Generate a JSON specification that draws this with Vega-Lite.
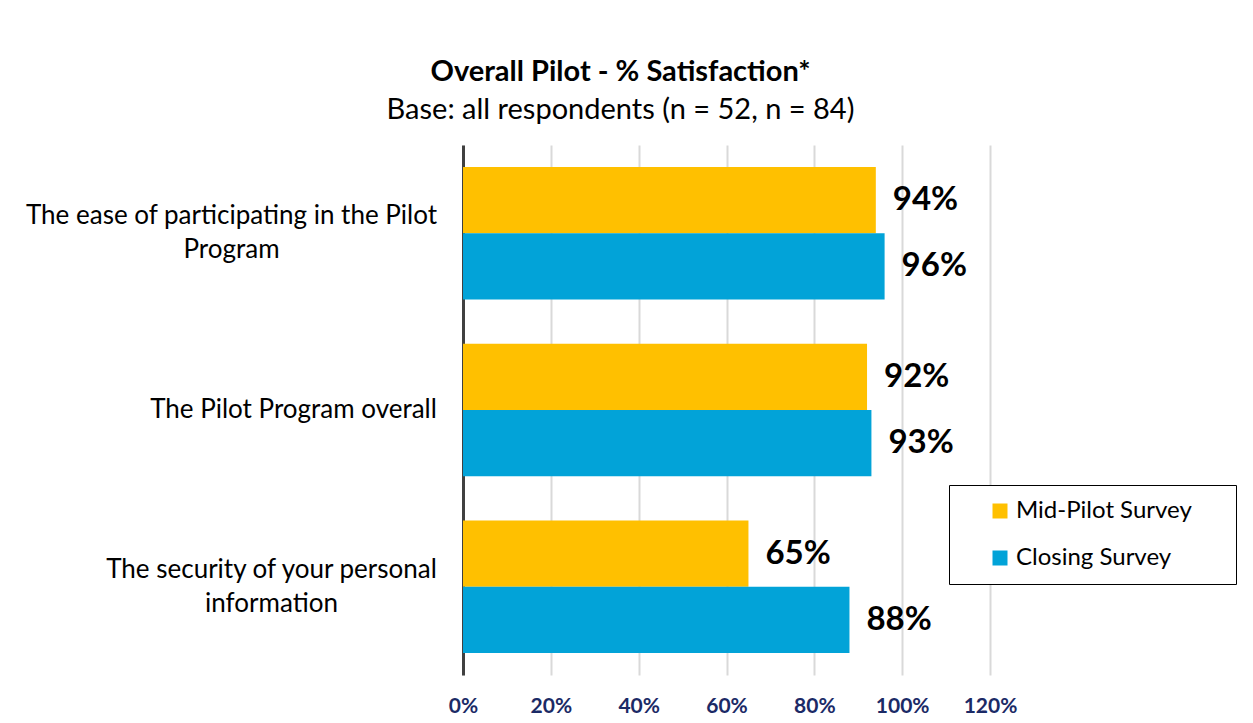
{
  "$schema": "https://vega.github.io/schema/vega-lite/v6.json",
  "autosize": "none",
  "width": 527,
  "height": 530,
  "padding": {"left": 463, "top": 145, "right": 263, "bottom": 48},
  "background": "white",
  "title": {
    "text": "Overall Pilot - % Satisfaction*",
    "subtitle": "Base: all respondents (n = 52, n = 84)",
    "anchor": "middle",
    "frame": "group",
    "dx": -106,
    "font": "Lato",
    "fontSize": 29,
    "fontWeight": "bold",
    "color": "#000000",
    "subtitleFont": "Lato",
    "subtitleFontSize": 29,
    "subtitleColor": "#000000",
    "subtitlePadding": 9,
    "offset": 20
  },
  "data": {
    "values": [
      {"item": "The ease of participating in the Pilot Program", "series": "Mid-Pilot Survey", "pct": 0.94},
      {"item": "The ease of participating in the Pilot Program", "series": "Closing Survey", "pct": 0.96},
      {"item": "The Pilot Program overall", "series": "Mid-Pilot Survey", "pct": 0.92},
      {"item": "The Pilot Program overall", "series": "Closing Survey", "pct": 0.93},
      {"item": "The security of your personal information", "series": "Mid-Pilot Survey", "pct": 0.65},
      {"item": "The security of your personal information", "series": "Closing Survey", "pct": 0.88}
    ]
  },
  "encoding": {
    "y": {
      "field": "item",
      "type": "nominal",
      "sort": null,
      "scale": {"paddingInner": 0.25, "paddingOuter": 0.125},
      "axis": {
        "title": null,
        "domain": true,
        "domainColor": "#404040",
        "domainWidth": 3,
        "ticks": false,
        "grid": false,
        "labelFont": "Lato",
        "labelFontSize": 26,
        "labelColor": "#000000",
        "labelAlign": "center",
        "labelBaseline": "middle",
        "labelLineHeight": 34,
        "labelLimit": 600,
        "labelOffset": {
          "condition": {"test": "datum.value == 'The Pilot Program overall'", "value": 0},
          "value": -17
        },
        "labelPadding": {
          "condition": [
            {"test": "datum.value == 'The ease of participating in the Pilot Program'", "value": 232},
            {"test": "datum.value == 'The Pilot Program overall'", "value": 170}
          ],
          "value": 192
        },
        "labelExpr": "datum.value == 'The ease of participating in the Pilot Program' ? ['The ease of participating in the Pilot', 'Program'] : datum.value == 'The security of your personal information' ? ['The security of your personal', 'information'] : datum.value"
      }
    },
    "yOffset": {
      "field": "series",
      "type": "nominal",
      "sort": ["Mid-Pilot Survey", "Closing Survey"],
      "scale": {"paddingInner": 0, "paddingOuter": 0}
    },
    "x": {
      "field": "pct",
      "type": "quantitative",
      "scale": {"domain": [0, 1.2], "nice": false},
      "axis": {
        "title": null,
        "values": [0, 0.2, 0.4, 0.6, 0.8, 1.0, 1.2],
        "format": ".0%",
        "domain": false,
        "ticks": false,
        "grid": true,
        "gridColor": "#D9D9D9",
        "gridWidth": 2,
        "labelFlush": false,
        "labelFont": "Lato",
        "labelFontSize": 21,
        "labelFontWeight": "bold",
        "labelColor": "#1B2A66",
        "labelPadding": 20
      }
    }
  },
  "layer": [
    {
      "mark": {"type": "bar"},
      "encoding": {
        "color": {
          "field": "series",
          "type": "nominal",
          "sort": ["Mid-Pilot Survey", "Closing Survey"],
          "scale": {"domain": ["Mid-Pilot Survey", "Closing Survey"], "range": ["#FFC000", "#02A3D8"]},
          "legend": {
            "title": null,
            "orient": "none",
            "legendX": 486,
            "legendY": 340,
            "strokeColor": "#000000",
            "fillColor": "#FFFFFF",
            "padding": 14,
            "symbolType": "square",
            "symbolSize": 225,
            "symbolStrokeWidth": 0,
            "symbolOffset": 25,
            "labelFont": "Lato",
            "labelFontSize": 24,
            "labelColor": "#000000",
            "labelOffset": 4,
            "labelLimit": 400,
            "rowPadding": 23,
            "labelExpr": "datum.label + '\u2002\u2800'"
          }
        }
      }
    },
    {
      "mark": {"type": "text", "align": "left", "baseline": "middle", "dx": 17, "font": "Lato", "fontSize": 33, "fontWeight": "bold", "color": "#000000"},
      "encoding": {
        "text": {"field": "pct", "type": "quantitative", "format": ".0%"}
      }
    }
  ],
  "config": {
    "view": {"stroke": null}
  }
}
